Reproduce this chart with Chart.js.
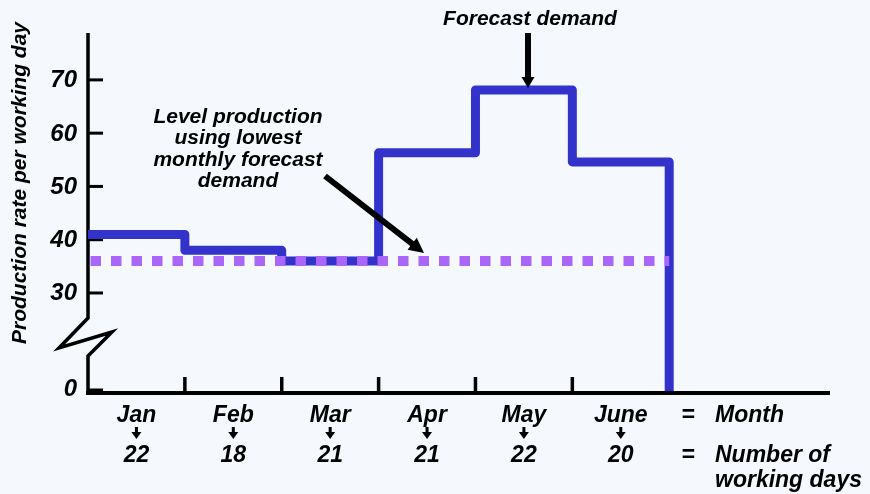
<!DOCTYPE html>
<html>
<head>
<meta charset="utf-8">
<script src="https://cdn.jsdelivr.net/npm/chart.js@4"></script>
<style>
  html,body{margin:0;padding:0;background:#f5f9fe;}
  #wrap{width:870px;height:494px;}
</style>
</head>
<body>
<div id="wrap"><canvas id="c" width="870" height="494"></canvas></div>
<script>
// data
const months   = ['Jan','Feb','Mar','Apr','May','June'];
const workDays = [22,18,21,21,22,20];
const demand   = [41,38,36,56.3,68.1,54.6];   // production rate per working day
const yTicks   = [0,30,40,50,60,70];
const level    = Math.min(...demand);          // level production = lowest month

// broken y axis: everything under 30 is squeezed into a short stub
const BREAK_LO = 11.6, Y_MAX = 78.8, X_MAX = 7.66;
const brk = v => v>=30 ? v : BREAK_LO + v*(30-BREAK_LO)/30;

const BLUE='#3333cc', PURPLE='#aa66f8', INK='#000';
const F = (px)=>`italic bold ${px}px "Liberation Sans", Arial, sans-serif`;

const demandPts = demand.map((v,i)=>({x:i,y:brk(v)})).concat([{x:demand.length,y:brk(0)}]);
const levelPts  = [{x:0,y:brk(level)},{x:demand.length,y:brk(level)}];

function arrow(c,x1,y1,x2,y2,w,hl,hw){
  const a=Math.atan2(y2-y1,x2-x1), ux=Math.cos(a), uy=Math.sin(a);
  const bx=x2-ux*hl, by=y2-uy*hl;
  c.strokeStyle=INK; c.lineWidth=w; c.lineCap='butt';
  c.beginPath(); c.moveTo(x1,y1); c.lineTo(bx+ux*1,by+uy*1); c.stroke();
  c.fillStyle=INK; c.beginPath();
  c.moveTo(x2,y2);
  c.lineTo(bx-uy*hw/2,by+ux*hw/2);
  c.lineTo(bx+uy*hw/2,by-ux*hw/2);
  c.closePath(); c.fill();
}

const axesPlugin={
  id:'axes',
  beforeDatasetsDraw(chart){
    const c=chart.ctx, xs=chart.scales.x, ys=chart.scales.y, a=chart.chartArea;
    const x0=a.left, yb=a.bottom;
    c.save();
    c.strokeStyle=INK; c.lineJoin='miter'; c.lineCap='butt';
    // y axis with break
    const y30=ys.getPixelForValue(30);
    c.lineWidth=3.5;
    c.beginPath();
    c.moveTo(x0,a.top); c.lineTo(x0,y30+25);
    c.lineTo(x0-29,y30+55); c.lineTo(x0+24,y30+39); c.lineTo(x0,y30+63);
    c.lineTo(x0,yb+4);
    c.stroke();
    // x axis
    c.lineWidth=4;
    c.beginPath(); c.moveTo(x0-2,yb+2); c.lineTo(a.right,yb+2); c.stroke();
    // y ticks pointing inward
    c.lineWidth=3;
    yTicks.forEach(t=>{
      const y=ys.getPixelForValue(brk(t)) - (t===0?1:0);
      c.beginPath(); c.moveTo(x0,y); c.lineTo(x0+15,y); c.stroke();
    });
    // x ticks at month boundaries
    c.lineWidth=3.5;
    for(let i=1;i<=months.length;i++){
      const x=xs.getPixelForValue(i);
      c.beginPath(); c.moveTo(x,yb+1); c.lineTo(x,yb-14); c.stroke();
    }
    c.restore();
  },
  afterDraw(chart){
    const c=chart.ctx, xs=chart.scales.x, ys=chart.scales.y, a=chart.chartArea;
    c.save();
    c.fillStyle=INK;
    // tick labels
    c.font=F(24); c.textAlign='right'; c.textBaseline='alphabetic';
    yTicks.forEach(t=>{
      const y=ys.getPixelForValue(brk(t));
      c.fillText(String(t), a.left-11, y+(t===0?5:7.5));
    });
    // axis title
    c.save();
    c.font=F(21); c.textAlign='center'; c.textBaseline='middle';
    c.translate(20,183); c.rotate(-Math.PI/2);
    c.fillText('Production rate per working day',0,0);
    c.restore();
    // month row, arrows, working days
    c.font=F(23); c.textAlign='center'; c.textBaseline='alphabetic';
    months.forEach((m,i)=>{
      const x=xs.getPixelForValue(i+0.5);
      c.fillText(m,x,422);
      c.fillText(String(workDays[i]),x,462);
      c.fillRect(x-1.5,427,3,6);
      c.beginPath(); c.moveTo(x-5,432); c.lineTo(x+5,432); c.lineTo(x,439); c.closePath(); c.fill();
    });
    c.textAlign='center';
    c.fillText('=',688,422); c.fillText('=',688,462);
    c.textAlign='left';
    c.fillText('Month',715,422);
    c.fillText('Number of',715,462);
    c.fillText('working days',715,487);
    // annotations
    c.font=F(21); c.textAlign='center';
    c.fillText('Forecast demand',530,25);
    ['Level production','using lowest','monthly forecast','demand']
      .forEach((s,i)=>c.fillText(s,238,123+i*21.3));
    const peakY=ys.getPixelForValue(brk(Math.max(...demand)));
    arrow(c,528,33,528,peakY-2,6,11,13);
    arrow(c,325,176,424,253,6,15,15);
    c.restore();
  }
};

new Chart(document.getElementById('c'),{
  type:'line',
  data:{datasets:[
    {label:'Level production',data:levelPts,borderColor:PURPLE,borderWidth:10,
     borderDash:[10.5,10],borderDashOffset:18,borderCapStyle:'butt',
     pointRadius:0,fill:false,clip:false,order:0},
    {label:'Forecast demand',data:demandPts,borderColor:BLUE,borderWidth:9,
     stepped:'before',borderJoinStyle:'round',borderCapStyle:'butt',
     pointRadius:0,fill:false,clip:false,order:1}
  ]},
  options:{
    responsive:false,animation:false,devicePixelRatio:1,events:[],
    layout:{padding:{left:88,right:40,top:33,bottom:103}},
    plugins:{legend:{display:false},tooltip:{enabled:false}},
    scales:{
      x:{type:'linear',min:0,max:X_MAX,display:false},
      y:{type:'linear',min:BREAK_LO,max:Y_MAX,display:false}
    }
  },
  plugins:[axesPlugin]
});
</script>
</body>
</html>
